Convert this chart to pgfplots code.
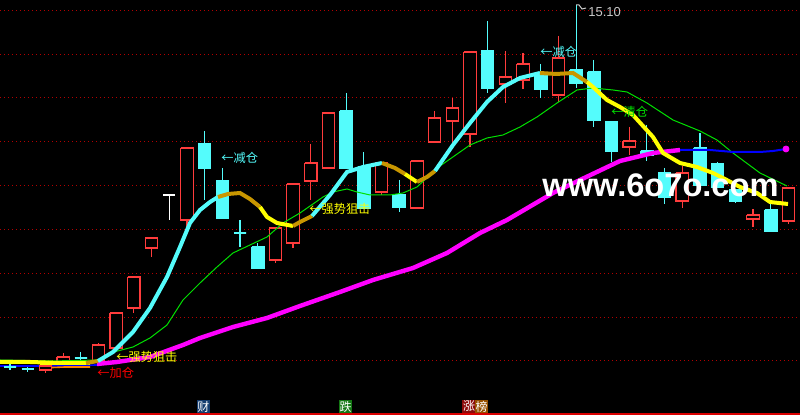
\documentclass[border=0pt]{standalone}
\usepackage{fontspec}
\setmainfont{Liberation Sans}
\newfontfamily\cjk{Noto Sans CJK SC}
\usepackage{pgfplots}
\usepackage{pgfplotstable}
\pgfplotsset{compat=1.18}

\definecolor{upred}{RGB}{255,60,60}
\definecolor{dncyan}{RGB}{84,252,252}
\definecolor{gold}{RGB}{200,150,0}
\definecolor{gridred}{RGB}{180,0,0}
\definecolor{maline}{RGB}{0,225,0}
\definecolor{txtgray}{RGB}{200,200,200}
\definecolor{mag}{RGB}{255,0,255}
\definecolor{yel}{RGB}{255,255,0}
\definecolor{blu}{RGB}{0,0,255}
\definecolor{org}{RGB}{255,128,0}
\definecolor{txtred}{RGB}{255,0,0}

% candles, in screen units (y grows downwards)
\pgfplotstableread{
x     top bot hi  lo
45.4  366 370 366 373
63.1  357 362 353 362
98.5  345 361 343 361
116.1 313 348 313 348
133.8 277 308 277 313
151.5 238 248 238 257
186.9 148 220 148 230
275.4 228 260 228 263
293.0 184 243 184 248
310.7 163 181 144 200
328.4 113 168 113 168
381.5 163 192 163 195
416.9 161 208 161 208
434.6 118 142 111 143
452.3 108 121  98 143
470.0  52 134  52 147
505.3  77  84  51 103
523.0  64  80  53  89
558.4  58  95  36 102
629.2 141 147 127 155
682.2 173 201 166 208
753.0 215 219 209 227
788.4 188 221 188 224
}\upcandles

\pgfplotstableread{
x     top bot hi  lo
10.0  367 367 360 370
27.7  369 369 367 372
80.8  358 358 352 362
204.6 144 168 131 200
222.3 181 218 168 218
240.0 233 233 220 247
257.7 247 268 243 268
346.1 111 168  93 168
363.8 167 208 152 208
399.2 195 207 180 212
487.6  51  88  21  93
540.7  75  89  64  98
576.1  70  83   5  88
593.8  72 120  60 127
611.5 122 151 122 162
646.8 151 155 125 161
664.5 173 197 168 204
699.9 148 185 133 190
717.6 164 187 162 187
735.3 190 201 190 203
770.7 210 231 201 231
}\dncandles

\pgfplotsset{
  upwick/.style={upred, line width=0.6pt},
  upbody/.style={draw=upred, fill=black, line width=0.6pt},
  dnwick/.style={dncyan, line width=0.6pt},
  dnbody/.style={draw=dncyan, fill=dncyan, line width=0.6pt},
}

\newcommand\drawcandles[3]{%
  \pgfplotstablegetrowsof{#1}%
  \pgfmathtruncatemacro\nlast{\pgfplotsretval-1}%
  \pgfplotsforeachungrouped \i in {0,...,\nlast}{%
    \pgfplotstablegetelem{\i}{x}\of{#1}\let\cx\pgfplotsretval
    \pgfplotstablegetelem{\i}{top}\of{#1}\let\ct\pgfplotsretval
    \pgfplotstablegetelem{\i}{bot}\of{#1}\let\cb\pgfplotsretval
    \pgfplotstablegetelem{\i}{hi}\of{#1}\let\ch\pgfplotsretval
    \pgfplotstablegetelem{\i}{lo}\of{#1}\let\cl\pgfplotsretval
    \pgfmathsetmacro\xl{\cx-6.2}%
    \pgfmathsetmacro\xr{\cx+6.2}%
    \edef\tmp{%
      \noexpand\addplot[#2] coordinates {(\cx,\ch)(\cx,\cl)};
      \noexpand\addplot[#3] coordinates {(\xl,\ct)(\xr,\ct)(\xr,\cb)(\xl,\cb)(\xl,\ct)};
    }\tmp
  }%
}

\begin{document}
\begin{tikzpicture}
\begin{axis}[
  name=ax,
  width=400pt, height=207.5pt, scale only axis,
  xmin=0, xmax=800, ymin=0, ymax=415, y dir=reverse,
  axis background/.style={fill=black},
  axis line style={draw=none},
  xtick=\empty,
  ytick={11,54.5,98,142,185.5,229.5,273.5,317.5,361},
  yticklabels={},
  major tick length=0pt,
  ymajorgrids,
  grid style={gridred, line width=0.5pt, dash pattern=on 0.5pt off 1.5pt},
]
% bottom line
\addplot[txtred!85!black, line width=1pt] coordinates {(0,414)(800,414)};

% small lines at the far left
\addplot[blu, line width=0.8pt] coordinates {(0,366)(50,366)(97,365)};
\addplot[org, line width=0.8pt] coordinates {(40,368)(65,367)(90,367)};
\addplot[yel, line width=1.2pt] coordinates {(40,364)(90,364)};

% candles
\drawcandles{\upcandles}{upwick}{upbody}
\drawcandles{\dncandles}{dnwick}{dnbody}
% white doji and the peak flag
\addplot[white, line width=0.6pt] coordinates {(169.2,195)(169.2,220)};
\addplot[white, line width=0.6pt] coordinates {(163,195)(175.4,195)};
\addplot[txtgray, line width=0.5pt] coordinates {(576.1,5)(579,5)(582,9)(586,8)};

% green moving average
\addplot[maline, line width=0.5pt] coordinates {
(0,360)(50,361)(100,360)(110,353)(133,347)(150,338)(167,325)(183,300)(200,283)
(217,267)(233,253)(250,245)(267,237)(283,223)(300,213)(323,197)(333,192)(347,189)
(357,192)(370,195)(390,195)(403,193)(417,187)(430,175)(440,166)(470,145)(487,138)
(503,135)(520,127)(537,117)(557,103)(577,90)(593,88)(613,90)(627,92)(647,103)
(673,120)(700,131)(717,140)(733,153)(760,173)(787,186)};

% magenta long line, then blue tail
\addplot[mag, line width=2.2pt] coordinates {
(97,364)(117,362)(150,357)(183,345)(200,338)(233,327)(267,318)(300,306)(340,292)
(373,280)(413,268)(447,253)(480,233)(507,220)(553,193)(580,180)(620,161)(653,153)(680,150)};
\addplot[blu, line width=1pt] coordinates {(680,150)(710,150)(733,152)(760,152)(773,151)(786,149)};
\addplot[mag, only marks, mark=*, mark size=1.5pt] coordinates {(786,149)};

% thick trend line, coloured by direction
\addplot[yel, line width=2pt] coordinates {(0,362)(30,362)(60,363)(86,363)};
\addplot[gold, line width=2pt] coordinates {(86,363)(98,361)};
\addplot[dncyan, line width=2pt] coordinates {
(98,361)(113,352)(133,332)(150,308)(167,277)(180,247)(190,223)(200,210)(210,202)(218,197)};
\addplot[gold, line width=2pt] coordinates {(218,197)(228,194)(240,193)(250,199)(260,207)};
\addplot[yel, line width=2pt] coordinates {(260,207)(267,217)(277,223)(293,226)};
\addplot[gold, line width=2pt] coordinates {(293,226)(300,222)(312,216)};
\addplot[dncyan, line width=2pt] coordinates {(312,216)(330,195)(347,172)(363,167)(382,163)};
\addplot[gold, line width=2pt] coordinates {(382,163)(395,168)(405,174)};
\addplot[yel, line width=2pt] coordinates {(405,174)(417,182)};
\addplot[gold, line width=2pt] coordinates {(417,182)(427,177)(435,171)};
\addplot[dncyan, line width=2pt] coordinates {
(435,171)(453,145)(470,123)(487,102)(503,87)(520,78)(540,73)};
\addplot[gold, line width=2pt] coordinates {(540,73)(556,74)(573,73)(587,82)};
\addplot[yel, line width=2pt] coordinates {
(587,82)(593,87)(607,100)(620,107)(633,115)(653,137)(663,153)(680,163)(697,167)
(713,173)(723,178)(740,187)(757,193)(770,202)(788,204)};

% annotations
\begin{scope}[every node/.style={anchor=west, inner sep=0pt}]
\node[dncyan] at (axis cs:221,158) {\cjk\fontsize{6.1}{6.5}\selectfont ←减仓};
\node[yel] at (axis cs:309,209) {\cjk\fontsize{6.1}{6.5}\selectfont ←强势狙击};
\node[yel] at (axis cs:116,357) {\cjk\fontsize{6.1}{6.5}\selectfont ←强势狙击};
\node[txtred] at (axis cs:97,373) {\cjk\fontsize{6.1}{6.5}\selectfont ←加仓};
\node[dncyan] at (axis cs:540,52) {\cjk\fontsize{6.1}{6.5}\selectfont ←减仓};
\node[maline] at (axis cs:611,112) {\cjk\fontsize{6.1}{6.5}\selectfont ←清仓};
\node[txtgray] at (axis cs:588,12) {\fontsize{6.5}{7}\selectfont 15.10};
\node[white, anchor=base west] at (axis cs:542,197) {\fontsize{16.3}{18}\selectfont\bfseries www.6o7o.com};
\end{scope}

% bottom tabs
\begin{scope}[every node/.style={inner sep=0.4pt, text=white}]
\node[fill={rgb,255:red,20;green,60;blue,110}] at (axis cs:203.5,406.5) {\cjk\fontsize{6}{6}\selectfont 财};
\node[fill={rgb,255:red,20;green,120;blue,20}] at (axis cs:345.5,406.5) {\cjk\fontsize{6}{6}\selectfont 跌};
\node[fill={rgb,255:red,140;green,10;blue,10}] at (axis cs:469,406.5) {\cjk\fontsize{6}{6}\selectfont 涨};
\node[fill={rgb,255:red,150;green,80;blue,0}] at (axis cs:481.5,406.5) {\cjk\fontsize{6}{6}\selectfont 榜};
\end{scope}
\end{axis}
\pgfresetboundingbox
\path (ax.south west) rectangle (ax.north east);
\end{tikzpicture}
\end{document}
